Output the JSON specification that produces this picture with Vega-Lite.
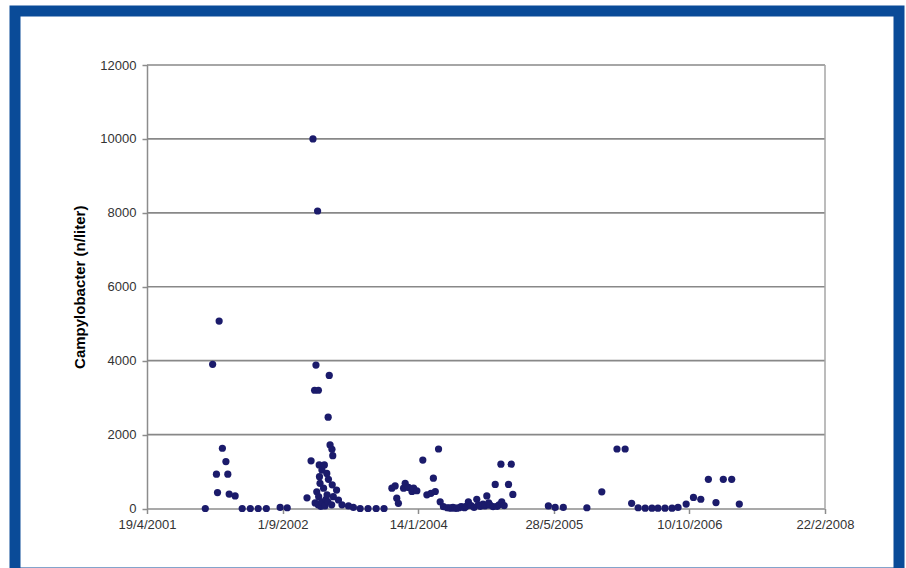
{
  "$schema": "https://vega.github.io/schema/vega-lite/v6.json",
  "width": 884,
  "height": 562,
  "autosize": {"type": "none"},
  "padding": {"left": 15, "top": 11, "right": 7, "bottom": 0},
  "background": "white",
  "config": {
    "view": {"stroke": "#0a4b98", "strokeWidth": 11, "fill": "white"},
    "font": "Liberation Sans",
    "axis": {"grid": false}
  },
  "datasets": {
    "samples": [
      {"date": "2001-11-20", "count": 0},
      {"date": "2001-12-17", "count": 3900},
      {"date": "2001-12-31", "count": 930},
      {"date": "2002-01-04", "count": 430},
      {"date": "2002-01-10", "count": 5070},
      {"date": "2002-01-22", "count": 1630},
      {"date": "2002-02-04", "count": 1270},
      {"date": "2002-02-11", "count": 930},
      {"date": "2002-02-16", "count": 390},
      {"date": "2002-03-10", "count": 340},
      {"date": "2002-04-05", "count": 0},
      {"date": "2002-05-05", "count": 0},
      {"date": "2002-06-03", "count": 0},
      {"date": "2002-07-03", "count": 0},
      {"date": "2002-08-23", "count": 30},
      {"date": "2002-09-18", "count": 20},
      {"date": "2002-11-30", "count": 290},
      {"date": "2002-12-15", "count": 1290},
      {"date": "2002-12-22", "count": 10000},
      {"date": "2002-12-28", "count": 3200},
      {"date": "2002-12-30", "count": 150},
      {"date": "2003-01-02", "count": 3880},
      {"date": "2003-01-05", "count": 450},
      {"date": "2003-01-08", "count": 8050},
      {"date": "2003-01-10", "count": 100},
      {"date": "2003-01-11", "count": 3200},
      {"date": "2003-01-12", "count": 320},
      {"date": "2003-01-14", "count": 1180},
      {"date": "2003-01-15", "count": 860},
      {"date": "2003-01-17", "count": 680},
      {"date": "2003-01-20", "count": 60},
      {"date": "2003-01-23", "count": 180},
      {"date": "2003-01-24", "count": 1040},
      {"date": "2003-01-30", "count": 550},
      {"date": "2003-02-02", "count": 1180},
      {"date": "2003-02-04", "count": 70},
      {"date": "2003-02-08", "count": 250},
      {"date": "2003-02-11", "count": 950},
      {"date": "2003-02-12", "count": 370},
      {"date": "2003-02-15", "count": 180},
      {"date": "2003-02-16", "count": 2470},
      {"date": "2003-02-17", "count": 790},
      {"date": "2003-02-20", "count": 3600},
      {"date": "2003-02-23", "count": 1720},
      {"date": "2003-03-01", "count": 100},
      {"date": "2003-03-02", "count": 1600},
      {"date": "2003-03-03", "count": 640},
      {"date": "2003-03-05", "count": 1430},
      {"date": "2003-03-07", "count": 320},
      {"date": "2003-03-19", "count": 500},
      {"date": "2003-03-26", "count": 230},
      {"date": "2003-04-08", "count": 100},
      {"date": "2003-05-02", "count": 70},
      {"date": "2003-05-20", "count": 30},
      {"date": "2003-06-14", "count": 0},
      {"date": "2003-07-13", "count": 0},
      {"date": "2003-08-12", "count": 0},
      {"date": "2003-09-10", "count": 0},
      {"date": "2003-10-09", "count": 550},
      {"date": "2003-10-21", "count": 610},
      {"date": "2003-10-27", "count": 280},
      {"date": "2003-11-02", "count": 140},
      {"date": "2003-11-21", "count": 550},
      {"date": "2003-11-27", "count": 680},
      {"date": "2003-12-09", "count": 570},
      {"date": "2003-12-22", "count": 460},
      {"date": "2003-12-28", "count": 550},
      {"date": "2004-01-09", "count": 480},
      {"date": "2004-01-31", "count": 1310},
      {"date": "2004-02-15", "count": 370},
      {"date": "2004-03-01", "count": 410},
      {"date": "2004-03-10", "count": 820},
      {"date": "2004-03-17", "count": 460},
      {"date": "2004-03-29", "count": 1610},
      {"date": "2004-04-04", "count": 180},
      {"date": "2004-04-16", "count": 50},
      {"date": "2004-04-30", "count": 20},
      {"date": "2004-05-07", "count": 20},
      {"date": "2004-05-14", "count": 10},
      {"date": "2004-05-21", "count": 30},
      {"date": "2004-05-29", "count": 10},
      {"date": "2004-06-05", "count": 10},
      {"date": "2004-06-13", "count": 20},
      {"date": "2004-06-20", "count": 50},
      {"date": "2004-06-28", "count": 40},
      {"date": "2004-07-03", "count": 20},
      {"date": "2004-07-09", "count": 60},
      {"date": "2004-07-17", "count": 180},
      {"date": "2004-07-27", "count": 80},
      {"date": "2004-08-07", "count": 30},
      {"date": "2004-08-17", "count": 250},
      {"date": "2004-08-23", "count": 100},
      {"date": "2004-08-30", "count": 60},
      {"date": "2004-09-09", "count": 120},
      {"date": "2004-09-16", "count": 70},
      {"date": "2004-09-23", "count": 340},
      {"date": "2004-09-30", "count": 150},
      {"date": "2004-10-05", "count": 90},
      {"date": "2004-10-16", "count": 50},
      {"date": "2004-10-24", "count": 650},
      {"date": "2004-10-31", "count": 60},
      {"date": "2004-11-07", "count": 100},
      {"date": "2004-11-14", "count": 1200},
      {"date": "2004-11-17", "count": 180},
      {"date": "2004-11-26", "count": 80},
      {"date": "2004-12-12", "count": 650},
      {"date": "2004-12-22", "count": 1200},
      {"date": "2004-12-28", "count": 380},
      {"date": "2005-05-08", "count": 70},
      {"date": "2005-06-02", "count": 30},
      {"date": "2005-07-02", "count": 30},
      {"date": "2005-09-27", "count": 20},
      {"date": "2005-11-21", "count": 450},
      {"date": "2006-01-16", "count": 1610},
      {"date": "2006-02-15", "count": 1610},
      {"date": "2006-03-11", "count": 140},
      {"date": "2006-04-04", "count": 20},
      {"date": "2006-04-30", "count": 10},
      {"date": "2006-05-25", "count": 10},
      {"date": "2006-06-16", "count": 10},
      {"date": "2006-07-12", "count": 10},
      {"date": "2006-08-07", "count": 10},
      {"date": "2006-08-29", "count": 30},
      {"date": "2006-09-28", "count": 120},
      {"date": "2006-10-25", "count": 300},
      {"date": "2006-11-21", "count": 250},
      {"date": "2006-12-19", "count": 790},
      {"date": "2007-01-16", "count": 160},
      {"date": "2007-02-12", "count": 790},
      {"date": "2007-03-15", "count": 790},
      {"date": "2007-04-12", "count": 120}
    ],
    "grid": [
      {"v": 2000}, {"v": 4000}, {"v": 6000}, {"v": 8000}, {"v": 10000}, {"v": 12000}
    ]
  },
  "layer": [
    {
      "data": {"name": "grid"},
      "mark": {"type": "rule", "color": "#888888", "strokeWidth": 1.6},
      "encoding": {
        "y": {"field": "v", "type": "quantitative", "title": "Campylobacter (n/liter)"},
        "x": {"datum": {"year": 2001, "month": 4, "date": 19}, "type": "temporal", "title": null},
        "x2": {"datum": {"year": 2008, "month": 2, "date": 22}}
      }
    },
    {
      "data": {"values": [{}]},
      "mark": {"type": "rule", "color": "#a6a6a6", "strokeWidth": 1.5},
      "encoding": {
        "x": {"datum": {"year": 2008, "month": 2, "date": 22}, "type": "temporal", "title": null},
        "y": {"datum": 0, "type": "quantitative", "title": "Campylobacter (n/liter)"},
        "y2": {"datum": 12000}
      }
    },
    {
      "data": {"name": "samples", "format": {"parse": {"date": "date:'%Y-%m-%d'"}}},
      "mark": {"type": "circle", "size": 52, "color": "#1b1b6b", "opacity": 1},
      "encoding": {
        "x": {
          "field": "date",
          "type": "temporal",
          "title": null,
          "scale": {
            "domain": [{"year": 2001, "month": 4, "date": 19}, {"year": 2008, "month": 2, "date": 22}],
            "range": [132, 810],
            "nice": false
          },
          "axis": {
            "values": [
              {"year": 2001, "month": 4, "date": 19},
              {"year": 2002, "month": 9, "date": 1},
              {"year": 2004, "month": 1, "date": 14},
              {"year": 2005, "month": 5, "date": 28},
              {"year": 2006, "month": 10, "date": 10},
              {"year": 2008, "month": 2, "date": 22}
            ],
            "format": "%-d/%-m/%Y",
            "offset": -64.5,
            "title": null,
            "grid": false,
            "tickSize": 5,
            "tickColor": "#8c8c8c",
            "tickWidth": 1.5,
            "domainColor": "#8c8c8c",
            "domainWidth": 1.5,
            "labelPadding": 5,
            "labelFontSize": 13,
            "labelColor": "#333333",
            "labelFlush": false,
            "labelOverlap": false
          }
        },
        "y": {
          "field": "count",
          "type": "quantitative",
          "title": "Campylobacter (n/liter)",
          "scale": {"domain": [0, 12000], "range": [497.5, 54], "nice": false, "zero": false},
          "axis": {
            "values": [0, 2000, 4000, 6000, 8000, 10000, 12000],
            "format": "d",
            "offset": -132,
            "grid": false,
            "tickSize": 5,
            "tickColor": "#8c8c8c",
            "tickWidth": 1.5,
            "domainColor": "#8c8c8c",
            "domainWidth": 1.5,
            "labelPadding": 6,
            "labelFontSize": 13,
            "labelColor": "#333333",
            "labelOverlap": false,
            "title": "Campylobacter (n/liter)",
            "titleFontSize": 15,
            "titleFontWeight": "bold",
            "titleColor": "#000000",
            "titlePadding": 12
          }
        }
      }
    }
  ]
}
